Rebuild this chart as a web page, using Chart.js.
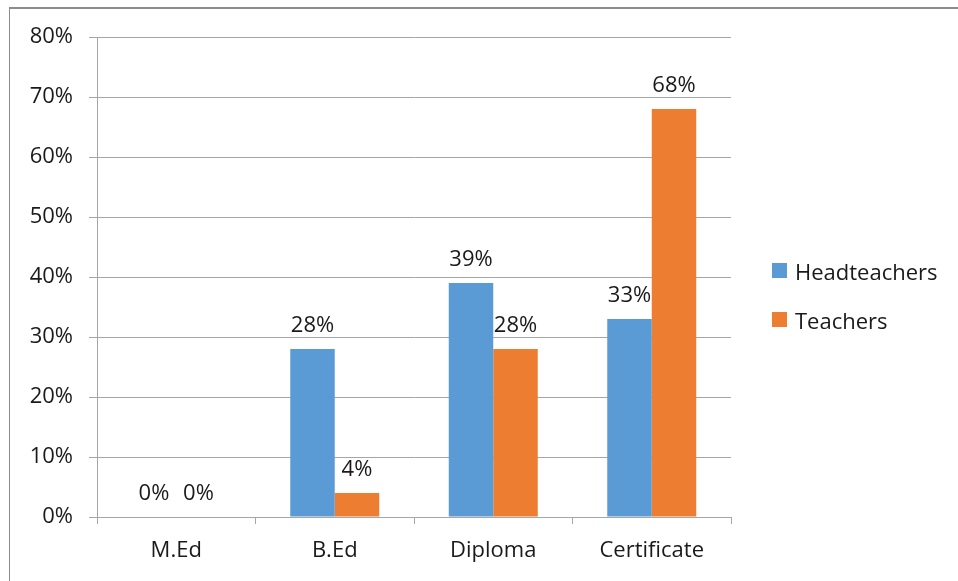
<!DOCTYPE html>
<html>
<head>
<meta charset="utf-8">
<script src="https://cdn.jsdelivr.net/npm/chart.js@4/dist/chart.umd.min.js"></script>
<style>
    html, body { margin: 0; padding: 0; background: #fff; overflow: hidden; }
    #wrap { position: relative; width: 958px; height: 581px; }
    #frame {
        position: absolute; left: 9px; top: 7px; width: 960px; height: 600px;
        border-left: 1px solid #8c8c8c; border-top: 2px solid #8c8c8c;
    }
    #qualChart { position: absolute; left: 0; top: 0; }
    #legend {
        position: absolute; left: 772px; top: 246px;
        font-family: 'Open Sans', sans-serif; font-size: 22px; color: #1a1a1a;
    }
    .item { display: flex; align-items: center; height: 49px; }
    .swatch { width: 15px; height: 15px; margin-right: 8px; }
</style>
</head>
<body>
<div id="wrap">
    <div id="frame"></div>
    <canvas id="qualChart" width="958" height="581"></canvas>
    <div id="legend"></div>
</div>
<script>
const qualifications = ['M.Ed', 'B.Ed', 'Diploma', 'Certificate'];
const headteachers = [0, 28, 39, 33];
const teachers = [0, 4, 28, 68];
const yTicks = [0, 10, 20, 30, 40, 50, 60, 70, 80];

const Color = {
    Blue: '#5b9bd5',
    Orange: '#ed7d31',
    Grid: '#a6a6a6',
    Text: '#1a1a1a',
};

const FONT = { family: "'Open Sans', sans-serif", size: 22 };

// writes the percentage above each bar
const valueLabels = {
    id: 'valueLabels',
    afterDatasetsDraw(chart) {
        const ctx = chart.ctx;
        ctx.save();
        ctx.font = `${FONT.size}px ${FONT.family}`;
        ctx.fillStyle = Color.Text;
        ctx.textAlign = 'center';
        ctx.textBaseline = 'alphabetic';
        chart.data.datasets.forEach((ds, i) => {
            chart.getDatasetMeta(i).data.forEach((bar, j) => {
                ctx.fillText(`${ds.data[j]}%`, bar.x, bar.y - 17);
            });
        });
        ctx.restore();
    },
};

function renderLegend(chart) {
    const box = document.getElementById('legend');
    chart.data.datasets.forEach((ds) => {
        const row = document.createElement('div');
        row.className = 'item';
        const sw = document.createElement('span');
        sw.className = 'swatch';
        sw.style.background = ds.backgroundColor;
        const txt = document.createElement('span');
        txt.textContent = ds.label;
        row.appendChild(sw);
        row.appendChild(txt);
        box.appendChild(row);
    });
}

const ctx = document.getElementById('qualChart').getContext('2d');
const chart = new Chart(ctx, {
    type: 'bar',
    data: {
        labels: qualifications,
        datasets: [
            { label: 'Headteachers', data: headteachers, backgroundColor: Color.Blue },
            { label: 'Teachers', data: teachers, backgroundColor: Color.Orange },
        ],
    },
    options: {
        responsive: false,
        animation: false,
        layout: { padding: { left: 0, top: 37, right: 227, bottom: 0 } },
        datasets: { bar: { barPercentage: 1, categoryPercentage: 0.5615 } },
        plugins: {
            legend: { display: false },
            tooltip: { enabled: false },
        },
        scales: {
            x: {
                afterFit(scale) { scale.height = 64; },
                grid: {
                    offset: true,
                    drawOnChartArea: false,
                    drawTicks: true,
                    tickLength: 7,
                    color: Color.Grid,
                },
                border: { color: Color.Grid, width: 1 },
                ticks: { color: Color.Text, font: FONT, padding: 14 },
            },
            y: {
                min: 0,
                max: 80,
                afterFit(scale) { scale.width = 97; },
                afterBuildTicks(scale) {
                    scale.ticks = yTicks.map((v) => ({ value: v }));
                },
                grid: { color: Color.Grid, tickLength: 8 },
                border: { color: Color.Grid, width: 1 },
                ticks: {
                    color: Color.Text,
                    font: FONT,
                    padding: 16,
                    callback: (v) => v + '%',
                },
            },
        },
    },
    plugins: [valueLabels],
});

renderLegend(chart);
</script>
</body>
</html>
